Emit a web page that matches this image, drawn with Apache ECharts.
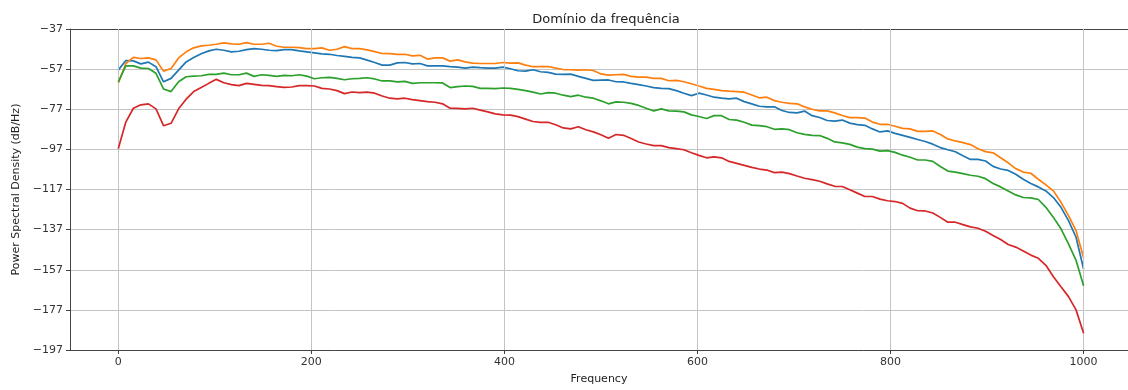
<!DOCTYPE html>
<html>
<head>
<meta charset="utf-8">
<script src="https://cdn.jsdelivr.net/npm/echarts@6/dist/echarts.min.js"></script>
<style>
html,body{margin:0;padding:0;background:#fff;}
#chart{width:1128px;height:390px;}
</style>
</head>
<body>
<div id="chart"></div>
<script>
// Frequency grid: 129 bins from 0 to 1000 Hz
const nBins = 129;
const fMax = 1000;
const freqs = Array.from({length: nBins}, (_, i) => i * fMax / (nBins - 1));

const xTicks = [0, 200, 400, 600, 800, 1000];
const yTicks = [-197, -177, -157, -137, -117, -97, -77, -57, -37];

const seriesNames = ['Canal 1', 'Canal 2', 'Canal 3', 'Canal 4'];

const blue = [-57.5,-52.7,-52.9,-54.4,-53.5,-55.8,-63.3,-61.6,-57.5,-53.4,
 -51.2,-49.3,-47.9,-47.1,-47.6,-48.4,-48.1,-47.3,-46.8,-47.1,
 -47.6,-47.8,-47.3,-47.3,-47.9,-48.4,-48.9,-49.4,-49.6,-50.2,
 -50.6,-51.1,-51.4,-52.5,-53.7,-55.0,-55.0,-53.9,-53.7,-54.4,
 -54.2,-55.4,-55.4,-55.4,-55.8,-56.0,-56.5,-56.0,-56.3,-56.5,
 -56.5,-56.0,-56.8,-57.8,-58.0,-57.3,-58.3,-58.6,-59.5,-59.6,
 -59.5,-60.6,-61.6,-62.6,-62.5,-62.4,-63.3,-63.4,-64.1,-64.7,
 -65.4,-66.2,-66.6,-66.7,-67.7,-69.0,-70.2,-69.0,-69.9,-71.0,
 -71.5,-71.8,-71.5,-73.2,-74.3,-75.5,-75.8,-75.8,-77.6,-78.6,
 -78.8,-77.9,-80.2,-81.1,-82.6,-82.9,-82.4,-83.9,-84.7,-85.0,
 -86.8,-88.3,-87.8,-89.0,-90.0,-91.0,-92.1,-93.1,-94.4,-96.1,
 -97.2,-98.2,-100.2,-102.0,-102.0,-102.8,-105.5,-106.8,-107.5,-109.4,
 -111.9,-114.0,-115.7,-117.7,-121.0,-125.9,-132.5,-140.8,-156.6];

const orange = [-64.2,-54.2,-51.1,-51.7,-51.4,-52.4,-58.0,-56.7,-51.4,-48.4,
 -46.4,-45.4,-45.1,-44.6,-43.9,-44.4,-44.6,-43.8,-44.6,-44.6,
 -44.1,-45.6,-46.1,-46.1,-46.3,-46.8,-46.8,-46.4,-47.6,-47.1,
 -45.8,-46.8,-46.8,-47.4,-48.3,-49.2,-49.3,-49.6,-49.6,-50.4,
 -50.1,-52.0,-51.4,-51.4,-53.0,-52.4,-53.4,-54.0,-54.2,-54.2,
 -54.2,-53.7,-54.0,-53.9,-55.0,-55.8,-55.8,-55.7,-56.5,-57.2,
 -57.3,-57.5,-57.3,-57.7,-59.4,-60.0,-59.8,-59.6,-60.6,-61.0,
 -61.0,-61.6,-61.6,-62.8,-62.6,-63.3,-64.3,-65.4,-66.6,-67.1,
 -67.7,-68.0,-68.2,-68.5,-69.9,-71.3,-71.0,-72.7,-73.5,-74.1,
 -74.3,-75.8,-77.0,-77.8,-77.8,-78.8,-80.1,-81.2,-81.2,-81.4,
 -83.4,-84.5,-84.5,-85.5,-86.5,-86.8,-88.0,-88.0,-87.8,-89.6,
 -91.8,-92.8,-93.6,-94.6,-96.7,-98.1,-98.7,-101.2,-103.7,-106.6,
 -108.3,-108.9,-111.9,-114.7,-117.7,-123.4,-130.0,-137.5,-151.0];

const green = [-63.3,-55.4,-55.4,-56.5,-56.7,-59.1,-66.9,-68.2,-63.3,-60.8,
 -60.5,-60.3,-59.6,-59.6,-59.0,-59.8,-59.8,-59.0,-60.6,-59.8,
 -60.1,-60.6,-60.1,-60.3,-59.8,-60.5,-61.8,-61.3,-61.1,-61.6,
 -62.3,-61.8,-61.6,-61.3,-61.9,-62.9,-62.9,-63.4,-63.1,-64.1,
 -63.8,-63.8,-63.8,-63.9,-66.2,-65.7,-65.4,-65.6,-66.6,-66.6,
 -66.7,-66.4,-66.6,-67.1,-67.7,-68.5,-69.4,-68.7,-69.0,-70.0,
 -70.7,-70.0,-71.0,-71.5,-72.8,-74.3,-73.3,-73.5,-74.1,-75.1,
 -76.5,-77.8,-76.8,-77.8,-77.9,-78.3,-79.8,-80.6,-81.6,-80.2,
 -80.2,-82.1,-82.4,-83.5,-84.9,-85.2,-85.7,-87.0,-86.8,-87.2,
 -88.7,-89.5,-90.0,-90.1,-91.5,-93.3,-93.8,-94.5,-95.9,-96.6,
 -96.9,-97.9,-97.6,-98.5,-99.9,-100.9,-102.3,-102.3,-103.0,-105.5,
 -107.8,-108.3,-109.1,-109.9,-110.4,-111.6,-114.0,-115.7,-117.7,-119.7,
 -121.0,-121.2,-122.0,-125.9,-130.9,-136.6,-144.1,-152.3,-165.0];

const red = [-96.7,-83.4,-76.5,-74.8,-74.3,-76.8,-85.2,-84.0,-76.8,-72.0,
 -68.2,-66.2,-64.1,-62.1,-63.8,-64.7,-65.2,-64.1,-64.6,-65.1,
 -65.2,-65.7,-66.1,-65.9,-65.2,-65.2,-65.4,-66.6,-66.9,-67.7,
 -69.2,-68.4,-68.7,-68.5,-69.0,-70.4,-71.5,-71.8,-71.5,-72.2,
 -72.7,-73.2,-73.5,-74.3,-76.5,-76.6,-76.8,-76.5,-77.4,-78.3,
 -79.3,-79.8,-79.9,-80.7,-81.9,-83.1,-83.5,-83.5,-84.7,-86.3,
 -86.8,-85.7,-87.2,-88.3,-89.7,-91.5,-89.6,-90.0,-91.6,-93.3,
 -94.3,-95.1,-95.1,-96.1,-96.6,-97.2,-98.7,-100.0,-101.2,-100.7,
 -101.2,-103.0,-104.0,-105.0,-106.0,-106.8,-107.3,-108.6,-108.3,-109.1,
 -110.3,-111.4,-112.1,-112.9,-114.2,-115.4,-115.5,-117.1,-118.8,-120.5,
 -120.5,-121.8,-122.6,-123.0,-123.9,-126.3,-127.6,-127.7,-128.7,-130.9,
 -133.3,-133.3,-134.5,-135.6,-136.3,-137.8,-139.9,-141.9,-144.4,-145.7,
 -147.7,-149.7,-151.3,-154.8,-160.5,-165.5,-170.4,-177.0,-188.6];

const seriesValues = [blue, orange, green, red];
const colors = ['#1f77b4', '#ff7f0e', '#2ca02c', '#d62728'];

// visible x window (the plot runs past the right edge of the picture)
const xMin = -50;
const xMax = 1046;

const FONT = 'DejaVu Sans';
const GRIDC = '#c4c4c4';
const AXC = '#444';
const minusFmt = v => String(v).replace('-', '\u2212');

const lineSeries = seriesValues.map((vals, k) => ({
  name: seriesNames[k],
  type: 'line',
  data: vals.map((v, i) => [freqs[i], v]),
  showSymbol: false,
  symbol: 'none',
  smooth: false,
  clip: true,
  lineStyle: {color: colors[k], width: 1.7},
  itemStyle: {color: colors[k]},
  z: 3 + k
}));

// vertical grid lines at the x tick values
const vGrid = {
  type: 'line',
  data: [],
  silent: true,
  z: 1,
  markLine: {
    silent: true,
    symbol: ['none', 'none'],
    label: {show: false},
    animation: false,
    lineStyle: {color: GRIDC, width: 1, type: 'solid'},
    emphasis: {disabled: true},
    data: xTicks.map(v => ({xAxis: v}))
  }
};

const chart = echarts.init(document.getElementById('chart'), null, {renderer: 'canvas'});
chart.setOption({
  animation: false,
  backgroundColor: '#ffffff',
  title: {
    text: 'Domínio da frequência',
    left: 601,
    textAlign: 'center',
    top: 8,
    textStyle: {fontFamily: FONT, fontSize: 13, fontWeight: 'normal', color: '#222'}
  },
  grid: {
    left: 70, top: 29, right: 0, height: 322,
    show: false
  },
  xAxis: [{
    type: 'value',
    min: xMin, max: xMax,
    name: 'Frequency',
    nameLocation: 'middle',
    nameGap: 24,
    nameTextStyle: {fontFamily: FONT, fontSize: 11, color: '#222'},
    axisLine: {show: true, onZero: false, lineStyle: {color: AXC, width: 1}},
    axisTick: {show: true, customValues: xTicks, length: 4, lineStyle: {color: AXC}},
    axisLabel: {customValues: xTicks, fontFamily: FONT, fontSize: 11, color: '#333', margin: 7,
                formatter: v => String(v)},
    splitLine: {show: false}
  }, {
    type: 'value',
    position: 'top',
    min: xMin, max: xMax,
    axisLine: {show: true, onZero: false, lineStyle: {color: AXC, width: 1}},
    axisTick: {show: false},
    axisLabel: {show: false},
    splitLine: {show: false}
  }],
  yAxis: {
    type: 'value',
    min: yTicks[0], max: yTicks[yTicks.length - 1], interval: 20,
    name: 'Power Spectral Density (dB/Hz)',
    nameLocation: 'middle',
    nameGap: 48,
    nameRotate: 90,
    nameTextStyle: {fontFamily: FONT, fontSize: 11, color: '#222'},
    axisLine: {show: true, onZero: false, lineStyle: {color: AXC, width: 1}},
    axisTick: {show: true, length: 4, lineStyle: {color: AXC}},
    axisLabel: {fontFamily: FONT, fontSize: 11, color: '#333', margin: 7, formatter: minusFmt},
    splitLine: {show: true, lineStyle: {color: GRIDC, width: 1}}
  },
  series: [vGrid].concat(lineSeries)
});
</script>
</body>
</html>
